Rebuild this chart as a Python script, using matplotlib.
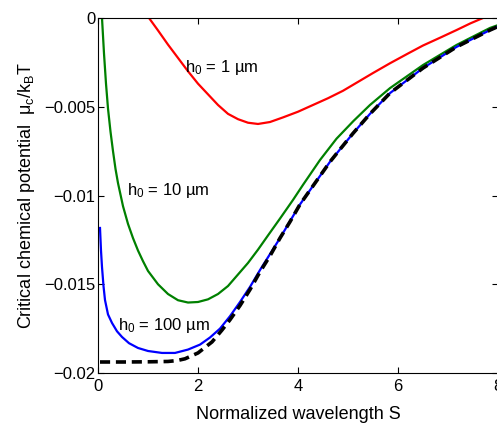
import matplotlib
matplotlib.use("Agg")
import matplotlib.pyplot as plt

plt.rcParams['font.family'] = ['Liberation Sans', 'DejaVu Sans']
plt.rcParams['mathtext.fontset'] = 'custom'
plt.rcParams['mathtext.rm'] = 'Liberation Sans'
plt.rcParams['mathtext.it'] = 'Liberation Sans:italic'
plt.rcParams['mathtext.default'] = 'regular'

# h0 = 1 um (red)
x_red = [1.02, 1.2, 1.4, 1.6, 1.8, 2.0, 2.2, 2.4, 2.6, 2.8, 3.0, 3.2, 3.44, 3.7, 4.0, 4.3, 4.6,
         4.9, 5.2, 5.5, 5.84, 6.2, 6.5, 6.85, 7.17, 7.45, 7.7]
y_red = [0.0, -0.0007, -0.0015, -0.00225, -0.003, -0.0037, -0.0043, -0.0049, -0.0054, -0.0057,
         -0.0059, -0.00597, -0.00586, -0.0056, -0.00528, -0.0049, -0.00452,
         -0.0041, -0.0036, -0.0031, -0.00255, -0.002, -0.00155, -0.0011, -0.00068, -0.0003, 0.0]

# h0 = 10 um (green)
x_green = [0.08, 0.12, 0.16, 0.2, 0.25, 0.3, 0.35, 0.4, 0.5, 0.6, 0.7, 0.8, 0.9, 1.0, 1.2, 1.4,
           1.6, 1.8, 2.0, 2.2, 2.4, 2.6, 2.8, 3.0, 3.2, 3.4, 3.64, 3.9, 4.1, 4.44, 4.77, 5.11,
           5.44, 5.84, 6.5, 7.17, 7.84, 8.0]
y_green = [0.0, -0.002, -0.0037, -0.0051, -0.0064, -0.0075, -0.0085, -0.0093, -0.0106, -0.0116,
           -0.0124, -0.0131, -0.0137, -0.01425, -0.015, -0.01555, -0.0159, -0.01603, -0.016,
           -0.01585, -0.01555, -0.0151, -0.01445, -0.0138, -0.01305, -0.01225, -0.0113,
           -0.01025, -0.0094, -0.0080, -0.0068, -0.0058, -0.0049, -0.00395, -0.00265,
           -0.00152, -0.00056, -0.0004]

# h0 = 100 um (blue)
x_blue = [0.04, 0.06, 0.08, 0.11, 0.14, 0.2, 0.28, 0.38, 0.48, 0.62, 0.8, 1.0, 1.28, 1.54, 1.8,
          2.04, 2.24, 2.44, 2.64, 2.84, 3.04, 3.24, 3.44, 3.64, 3.84, 4.04, 4.24, 4.44, 4.64,
          4.84, 5.1, 5.44, 5.84, 6.5, 7.17, 7.84, 8.0]
y_blue = [-0.01183, -0.0131, -0.01403, -0.0151, -0.01589, -0.0167, -0.01718, -0.01765, -0.01797,
          -0.01832, -0.01859, -0.01876, -0.01887, -0.01887, -0.01868, -0.0184, -0.018, -0.0175,
          -0.0168, -0.016, -0.01515, -0.0142, -0.0133, -0.0124, -0.01145, -0.0105, -0.0097,
          -0.0089, -0.0081, -0.0074, -0.0065, -0.0054, -0.00423, -0.00282, -0.00163,
          -0.00068, -0.00048]

# limit curve (black dashed)
x_lim = [0.04, 0.5, 1.0, 1.4, 1.58, 1.74, 2.0, 2.28, 2.48, 2.64, 2.84, 3.04, 3.24, 3.44, 3.64,
         3.84, 4.04, 4.24, 4.44, 4.64, 4.84, 5.1, 5.44, 5.84, 6.5, 7.17, 7.84, 8.0]
y_lim = [-0.01938, -0.01938, -0.01937, -0.01935, -0.0193, -0.0192, -0.01887, -0.01825, -0.01758,
         -0.0170, -0.0162, -0.0153, -0.0143, -0.0134, -0.0124, -0.01148, -0.0105, -0.0097,
         -0.0089, -0.0081, -0.0074, -0.0065, -0.0054, -0.00423, -0.00282, -0.00163,
         -0.00068, -0.00048]

xticks = [0, 2, 4, 6, 8]
yticks = [0, -0.005, -0.01, -0.015, -0.02]
yticklabels = ['0', '\u22120.005', '\u22120.01', '\u22120.015', '\u22120.02']

fig = plt.figure(figsize=(4.97, 4.26), dpi=100)
ax = fig.add_axes([98/497, 1-373/426, 400/497, 355/426])

ax.plot(x_red, y_red, color='#ff0000', lw=1.6)
ax.plot(x_green, y_green, color='#008000', lw=1.6)
ax.plot(x_blue, y_blue, color='#0000ff', lw=1.6)
ax.plot(x_lim, y_lim, color='black', lw=2.6, ls=(0, (2.8, 1.6)))

ax.set_xlim(0, 8)
ax.set_ylim(-0.02, 0)
ax.set_xticks(xticks)
ax.set_xticklabels([str(t) for t in xticks])
ax.set_yticks(yticks)
ax.set_yticklabels(yticklabels)
ax.tick_params(direction='in', top=True, right=True, labelsize=12, length=4, width=0.8)
ax.tick_params(axis='y', pad=2)
ax.tick_params(axis='x', pad=4)
for s in ax.spines.values():
    s.set_linewidth(0.8)

ax.text(1.74, -0.0028, r'h$_0$ = 1 µm', fontsize=12, va='center', ha='left')
ax.text(0.58, -0.0097, r'h$_0$ = 10 µm', fontsize=12, va='center', ha='left')
ax.text(0.40, -0.0173, r'h$_0$ = 100 µm', fontsize=12, va='center', ha='left')

ax.set_xlabel('Normalized wavelength S', fontsize=13, labelpad=9)
ax.set_ylabel(r'Critical chemical potential  $\mu_c/k_B$T', fontsize=13, labelpad=5)

fig.savefig('out.png', dpi=100)
